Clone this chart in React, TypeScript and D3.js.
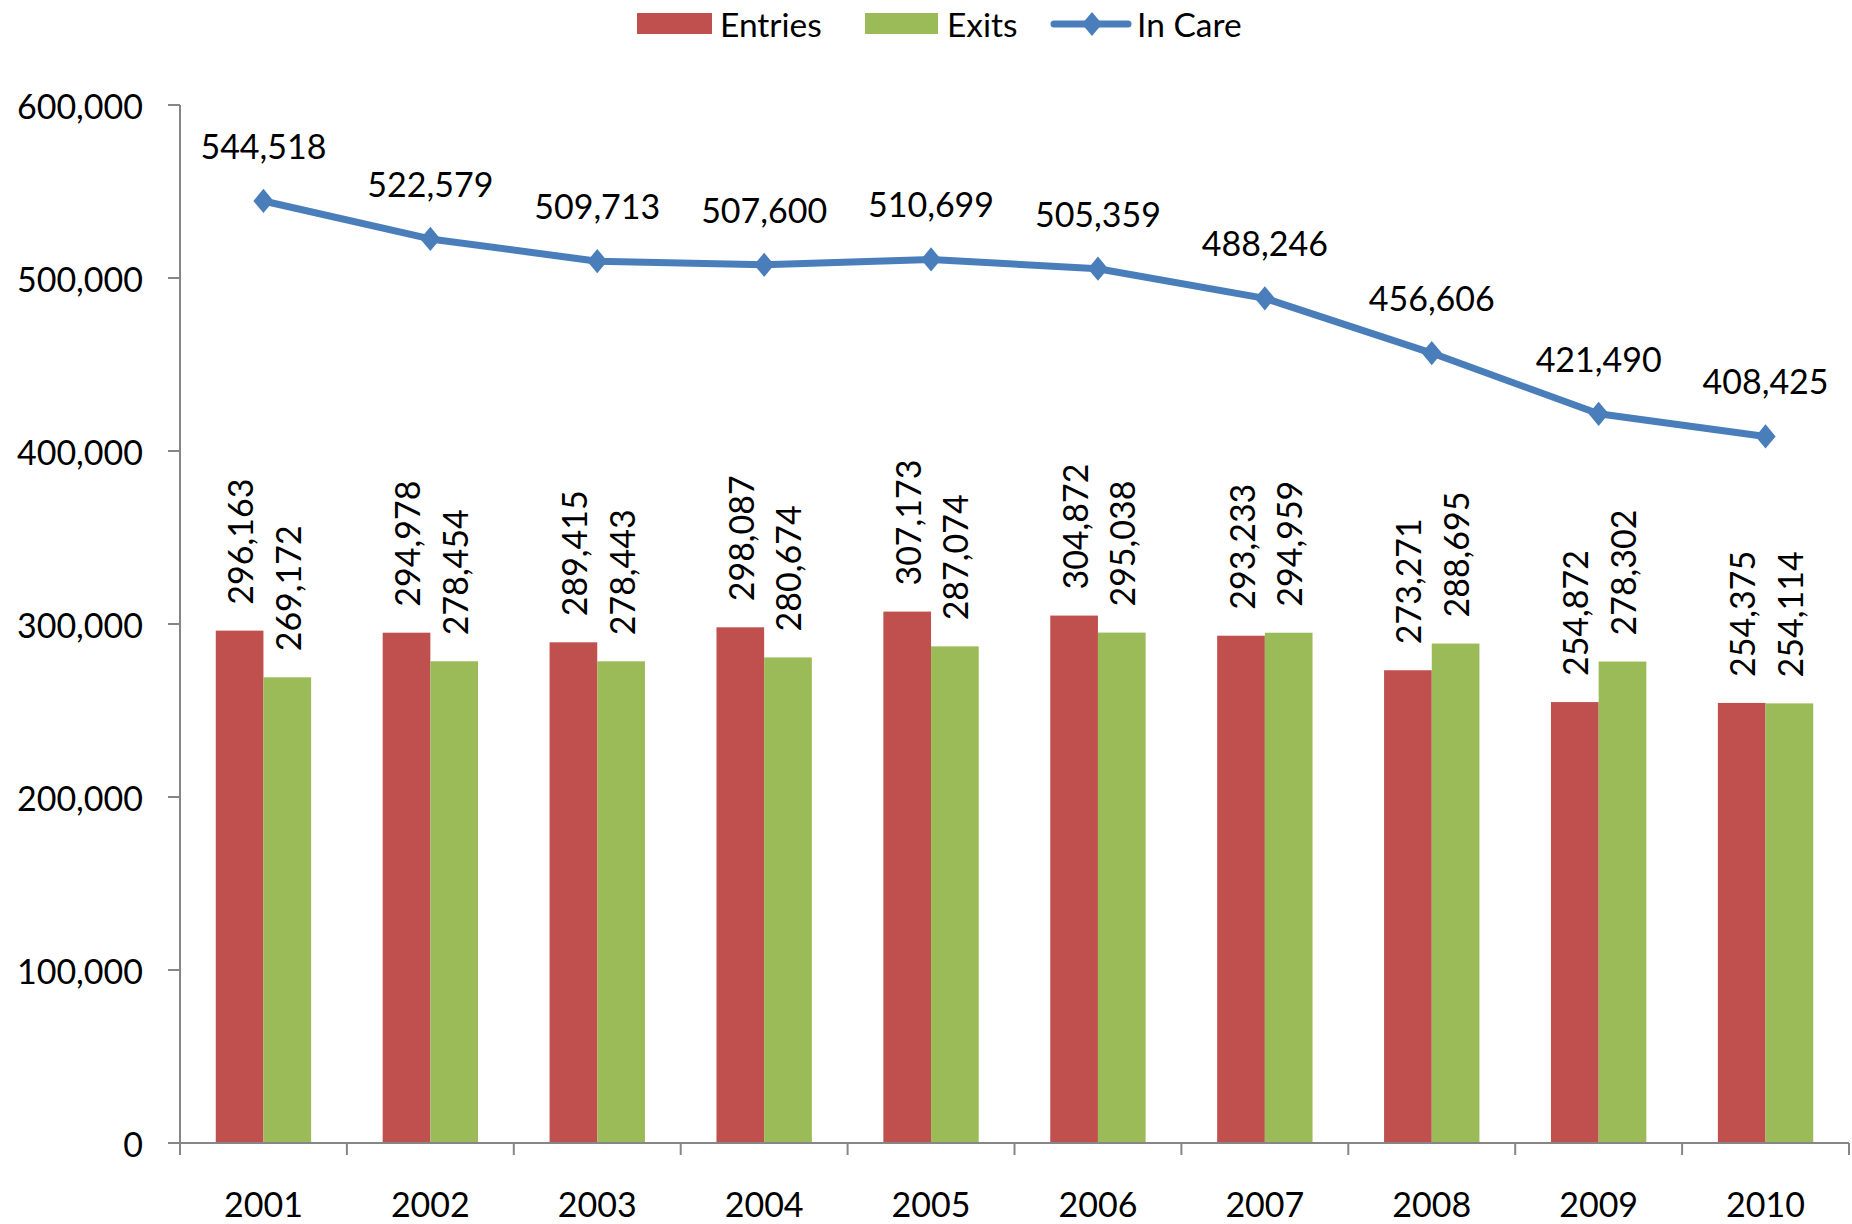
import React, { useEffect, useRef } from "react";
import * as d3 from "d3";

const years = ["2001", "2002", "2003", "2004", "2005", "2006", "2007", "2008", "2009", "2010"];
const entries = [296163, 294978, 289415, 298087, 307173, 304872, 293233, 273271, 254872, 254375];
const exits = [269172, 278454, 278443, 280674, 287074, 295038, 294959, 288695, 278302, 254114];
const inCare = [544518, 522579, 509713, 507600, 510699, 505359, 488246, 456606, 421490, 408425];
const yTicks = [0, 100000, 200000, 300000, 400000, 500000, 600000];

const RED = "#C0504D";
const GREEN = "#9BBB59";
const BLUE = "#4A7EBB";
const AXIS = "#868686";
const FONT = "Lato, 'Open Sans', sans-serif";

const App = () => {
  const ref = useRef<SVGSVGElement>(null);

  useEffect(() => {
    const svg = d3.select(ref.current);
    svg.selectAll("*").remove();

    const left = 180, right = 1849, top = 105, bottom = 1143;

    const x = d3.scaleBand().domain(years).range([left, right]).padding(0);
    const inner = d3.scaleBand().domain(["entries", "exits"]).range([0, x.bandwidth()])
      .paddingInner(0).paddingOuter(0.75);
    const y = d3.scaleLinear().domain([0, 600000]).range([bottom, top]);
    const fmt = d3.format(",");

    // bars
    const series = [
      { key: "entries", values: entries, color: RED },
      { key: "exits", values: exits, color: GREEN },
    ];
    series.forEach((s) => {
      const g = svg.append("g");
      g.selectAll("rect")
        .data(s.values)
        .enter()
        .append("rect")
        .attr("x", (d, i) => x(years[i])! + inner(s.key)!)
        .attr("y", (d) => y(d))
        .attr("width", inner.bandwidth())
        .attr("height", (d) => y(0) - y(d))
        .attr("fill", s.color);
      g.selectAll("text")
        .data(s.values)
        .enter()
        .append("text")
        .attr("transform", (d, i) => {
          const cx = x(years[i])! + inner(s.key)! + inner.bandwidth() / 2;
          return "translate(" + cx + "," + (y(d) - 26) + ") rotate(-90)";
        })
        .attr("text-anchor", "start")
        .attr("dominant-baseline", "central")
        .attr("font-family", FONT)
        .attr("font-size", 34)
        .attr("fill", "#000")
        .text((d) => fmt(d));
    });

    // y axis
    const ya = svg.append("g");
    ya.append("line").attr("x1", left).attr("x2", left).attr("y1", top).attr("y2", bottom)
      .attr("stroke", AXIS).attr("stroke-width", 2);
    yTicks.forEach((t) => {
      ya.append("line").attr("x1", left - 12).attr("x2", left).attr("y1", y(t)).attr("y2", y(t))
        .attr("stroke", AXIS).attr("stroke-width", 2);
      ya.append("text").attr("x", 143).attr("y", y(t))
        .attr("text-anchor", "end").attr("dominant-baseline", "central")
        .attr("font-family", FONT).attr("font-size", 34).attr("fill", "#000")
        .text(fmt(t));
    });

    // x axis
    const xa = svg.append("g");
    xa.append("line").attr("x1", left).attr("x2", right).attr("y1", bottom).attr("y2", bottom)
      .attr("stroke", AXIS).attr("stroke-width", 2);
    [...years.map((yr) => x(yr)!), right].forEach((tx) => {
      xa.append("line").attr("x1", tx).attr("x2", tx).attr("y1", bottom).attr("y2", bottom + 12)
        .attr("stroke", AXIS).attr("stroke-width", 2);
    });
    years.forEach((yr) => {
      xa.append("text").attr("x", x(yr)! + x.bandwidth() / 2).attr("y", 1217)
        .attr("text-anchor", "middle").attr("font-family", FONT).attr("font-size", 34)
        .attr("fill", "#000").text(yr);
    });

    // in care line
    const cx = (i: number) => x(years[i])! + x.bandwidth() / 2;
    const line = d3.line<number>().x((d, i) => cx(i)).y((d) => y(d));
    svg.append("path").datum(inCare).attr("d", line).attr("fill", "none")
      .attr("stroke", BLUE).attr("stroke-width", 7).attr("stroke-linejoin", "round");
    const diamond = d3.symbol().type(d3.symbolDiamond2).size(260);
    svg.selectAll(".dot").data(inCare).enter().append("path")
      .attr("class", "dot")
      .attr("d", diamond)
      .attr("transform", (d, i) => "translate(" + cx(i) + "," + y(d) + ") scale(1,1.2)")
      .attr("fill", BLUE);
    svg.selectAll(".lbl").data(inCare).enter().append("text")
      .attr("class", "lbl")
      .attr("x", (d, i) => cx(i)).attr("y", (d) => y(d) - 42)
      .attr("text-anchor", "middle").attr("font-family", FONT).attr("font-size", 34)
      .attr("fill", "#000").text((d) => fmt(d));

    // legend
    const lg = svg.append("g").attr("font-family", FONT).attr("font-size", 33.5).attr("fill", "#000");
    lg.append("rect").attr("x", 637).attr("y", 13).attr("width", 75).attr("height", 21).attr("fill", RED);
    lg.append("text").attr("x", 720).attr("y", 24).attr("dominant-baseline", "central").text("Entries");
    lg.append("rect").attr("x", 865).attr("y", 13).attr("width", 73).attr("height", 21).attr("fill", GREEN);
    lg.append("text").attr("x", 947).attr("y", 24).attr("dominant-baseline", "central").text("Exits");
    lg.append("line").attr("x1", 1054).attr("x2", 1128).attr("y1", 24).attr("y2", 24)
      .attr("stroke", BLUE).attr("stroke-width", 7).attr("stroke-linecap", "round");
    lg.append("path").attr("d", diamond).attr("transform", "translate(1092,24) scale(1,1.2)").attr("fill", BLUE);
    lg.append("text").attr("x", 1137).attr("y", 24).attr("dominant-baseline", "central").text("In Care");
  }, []);

  return (
    <div>
      <svg ref={ref} width={1852} height={1224}
        style={{ position: "absolute", left: 0, top: 0, background: "#fff" }}></svg>
    </div>
  );
};

export default App;
